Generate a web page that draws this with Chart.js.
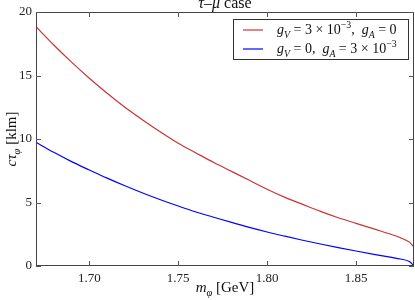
<!DOCTYPE html>
<html>
<head>
<meta charset="utf-8">
<script src="https://cdn.jsdelivr.net/npm/chart.js@4"></script>
<style>
  html, body { margin: 0; padding: 0; background: #fff; }
  #wrap { width: 415px; height: 300px; }
</style>
</head>
<body>
<div id="wrap"><canvas id="grafica"></canvas></div>
<script>
// datos
const masaPhi = [1.67, 1.68, 1.69, 1.70, 1.71, 1.72, 1.73, 1.74, 1.75, 1.76, 1.77, 1.78, 1.79, 1.80,
                 1.81, 1.82, 1.83, 1.84, 1.85, 1.86, 1.87, 1.875, 1.88, 1.8826];
const ctauVector = [18.84, 17.4, 16.05, 14.78, 13.6, 12.5, 11.5, 10.55, 9.66, 8.9, 8.15, 7.45, 6.75, 6.04,
                    5.4, 4.85, 4.3, 3.8, 3.36, 2.92, 2.48, 2.22, 1.88, 1.48];
const ctauAxial = [9.74, 8.95, 8.22, 7.56, 6.92, 6.32, 5.75, 5.22, 4.72, 4.25, 3.84, 3.43, 3.04, 2.68,
                   2.35, 2.03, 1.73, 1.45, 1.18, 0.92, 0.68, 0.55, 0.35, 0.0];
const xTicks = [1.70, 1.75, 1.80, 1.85];
const yTicks = [0, 5, 10, 15, 20];

const serif = '"Liberation Serif", "DejaVu Serif", serif';
const rojo = '#cc3333';
const azul = '#0000ff';

// texto con cursiva, subindices y superindices
function richText(ctx, parts, x, y, size, align) {
  const fontOf = (p) => {
    const s = (p[1].includes('sub') || p[1].includes('sup')) ? size * 0.7 : size;
    return (p[1].includes('i') ? 'italic ' : '') + s + 'px ' + serif;
  };
  let total = 0;
  parts.forEach(p => { ctx.font = fontOf(p); total += ctx.measureText(p[0]).width; });
  let cx = align === 'center' ? x - total / 2 : (align === 'right' ? x - total : x);
  ctx.textAlign = 'left';
  ctx.textBaseline = 'alphabetic';
  parts.forEach(p => {
    ctx.font = fontOf(p);
    let dy = 0;
    if (p[1].includes('sub')) dy = size * 0.25;
    if (p[1].includes('sup')) dy = -size * 0.4;
    ctx.fillText(p[0], cx, y + dy);
    cx += ctx.measureText(p[0]).width;
  });
}

const etiquetas = [
  [['g', 'i'], ['V', 'i sub'], [' = 3 × 10', ''], ['−3', 'sup'], [',  ', ''], ['g', 'i'], ['A', 'i sub'], [' = 0', '']],
  [['g', 'i'], ['V', 'i sub'], [' = 0,  ', ''], ['g', 'i'], ['A', 'i sub'], [' = 3 × 10', ''], ['−3', 'sup']]
];

const decoracion = {
  id: 'decoracion',
  afterDraw(chart) {
    const ctx = chart.ctx;
    const a = chart.chartArea;
    const xs = chart.scales.x, ys = chart.scales.y;
    ctx.save();
    // marco
    ctx.strokeStyle = '#444';
    ctx.lineWidth = 1;
    ctx.strokeRect(a.left + 0.5, a.top + 0.5, a.right - a.left - 1, a.bottom - a.top - 1);
    // ticks hacia dentro
    ctx.strokeStyle = '#555';
    ctx.beginPath();
    xTicks.forEach(v => {
      const px = Math.round(xs.getPixelForValue(v)) + 0.5;
      ctx.moveTo(px, a.bottom); ctx.lineTo(px, a.bottom - 5);
      ctx.moveTo(px, a.top); ctx.lineTo(px, a.top + 5);
    });
    yTicks.forEach(v => {
      const py = Math.round(ys.getPixelForValue(v)) + 0.5;
      ctx.moveTo(a.left, py); ctx.lineTo(a.left + 5, py);
      ctx.moveTo(a.right, py); ctx.lineTo(a.right - 5, py);
    });
    ctx.stroke();

    ctx.fillStyle = '#111';
    // titulo
    richText(ctx, [['τ', 'i'], ['–', ''], ['μ', 'i'], [' case', '']], (a.left + a.right) / 2, 8, 16, 'center');
    // eje x
    richText(ctx, [['m', 'i'], ['φ', 'i sub'], [' [GeV]', '']], (a.left + a.right) / 2, 292, 15, 'center');
    // eje y
    ctx.save();
    ctx.translate(16, (a.top + a.bottom) / 2);
    ctx.rotate(-Math.PI / 2);
    richText(ctx, [['cτ', 'i'], ['φ', 'i sub'], [' [klm]', '']], 0, 0, 15, 'center');
    ctx.restore();

    // leyenda
    const lx = 233, ly = 19, lw = 175, lh = 40;
    ctx.fillStyle = '#fff';
    ctx.fillRect(lx, ly, lw, lh);
    ctx.strokeStyle = '#333';
    ctx.strokeRect(lx + 0.5, ly + 0.5, lw, lh);
    chart.data.datasets.forEach((ds, i) => {
      const yy = ly + 11 + i * 19;
      ctx.strokeStyle = ds.borderColor;
      ctx.lineWidth = 1.2;
      ctx.beginPath();
      ctx.moveTo(lx + 10, yy); ctx.lineTo(lx + 30, yy);
      ctx.stroke();
      ctx.fillStyle = '#111';
      richText(ctx, etiquetas[i], lx + 44, yy + 4, 14, 'left');
    });
    ctx.restore();
  }
};

const ctx1 = document.getElementById('grafica').getContext('2d');

const miGrafica = new Chart(ctx1, {
  type: 'line',
  data: {
    datasets: [{
      label: 'gV = 3e-3, gA = 0',
      data: masaPhi.map((m, i) => ({ x: m, y: ctauVector[i] })),
      borderColor: rojo,
      borderWidth: 1.2,
      pointRadius: 0,
      cubicInterpolationMode: 'monotone',
      fill: false
    }, {
      label: 'gV = 0, gA = 3e-3',
      data: masaPhi.map((m, i) => ({ x: m, y: ctauAxial[i] })),
      borderColor: azul,
      borderWidth: 1.2,
      pointRadius: 0,
      cubicInterpolationMode: 'monotone',
      fill: false
    }]
  },
  options: {
    responsive: true,
    maintainAspectRatio: false,
    animation: false,
    layout: { padding: { top: 12, right: 1, left: 0, bottom: 0 } },
    plugins: {
      legend: { display: false },
      tooltip: { enabled: false }
    },
    scales: {
      x: {
        type: 'linear',
        min: 1.67,
        max: 1.8826,
        afterBuildTicks: (s) => { s.ticks = xTicks.map(v => ({ value: v })); },
        afterFit: (s) => { s.height = 34; },
        grid: { display: false, drawTicks: false },
        border: { display: false },
        ticks: {
          padding: 5,
          color: '#222',
          font: { family: serif, size: 13 },
          callback: (v) => v.toFixed(2),
          maxRotation: 0
        }
      },
      y: {
        min: 0,
        max: 20,
        afterBuildTicks: (s) => { s.ticks = yTicks.map(v => ({ value: v })); },
        afterFit: (s) => { s.width = 36; },
        grid: { display: false, drawTicks: false },
        border: { display: false },
        ticks: {
          padding: 4,
          color: '#222',
          font: { family: serif, size: 13 }
        }
      }
    }
  },
  plugins: [decoracion]
});
</script>
</body>
</html>
